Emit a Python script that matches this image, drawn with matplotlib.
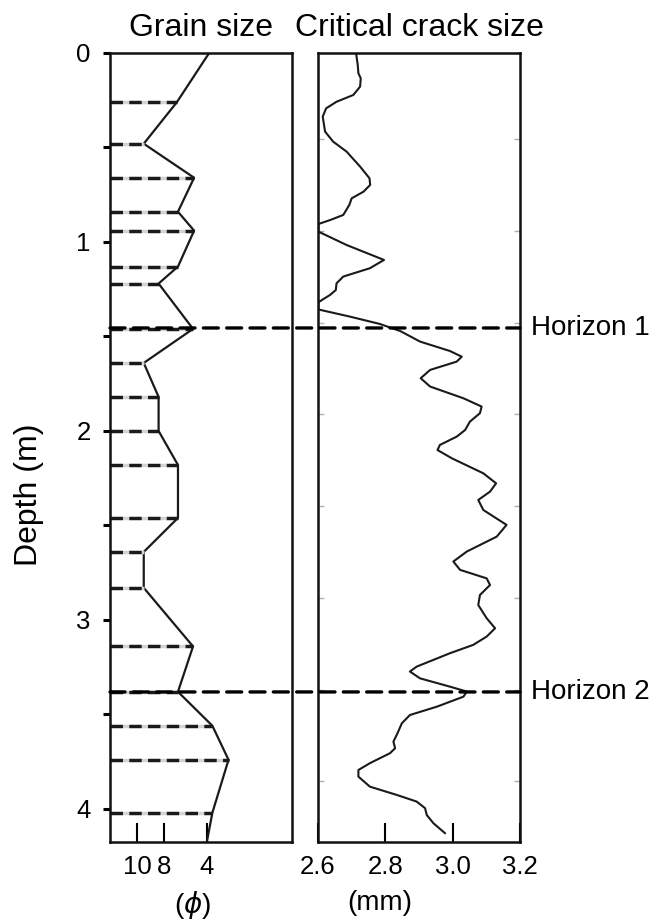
import numpy as np
import matplotlib
matplotlib.use("Agg")
import matplotlib.pyplot as plt
from matplotlib.patches import ConnectionPatch
from matplotlib.ticker import MultipleLocator, FuncFormatter

plt.rcParams['font.family'] = ['Liberation Sans', 'DejaVu Sans']

# ---------------- data ----------------
grain_depth = [0.0, 0.26, 0.48, 0.66, 0.84, 0.94, 1.13, 1.22, 1.46, 1.64, 1.82,
               2.0, 2.18, 2.46, 2.64, 2.83, 3.14, 3.38, 3.56, 3.74, 4.02, 4.17]
grain_phi = [3.8, 6.8, 9.5, 5.2, 6.7, 5.2, 6.7, 8.4, 5.3, 9.5, 8.4,
             8.4, 6.7, 6.7, 9.5, 9.5, 5.3, 6.7, 3.5, 2.0, 3.5, 4.0]

crack_depth = [0.0, 0.063, 0.107, 0.134, 0.178, 0.222, 0.258, 0.293, 0.337, 0.416,
               0.469, 0.522, 0.601, 0.663, 0.698, 0.734, 0.769, 0.804, 0.857, 0.884,
               0.905, 0.945, 1.016, 1.095, 1.139, 1.183, 1.219, 1.254, 1.280, 1.319,
               1.357, 1.395, 1.434, 1.471, 1.527, 1.577, 1.607, 1.633, 1.677, 1.721,
               1.765, 1.827, 1.871, 1.906, 1.951, 1.995, 2.030, 2.074, 2.101, 2.145,
               2.224, 2.277, 2.321, 2.365, 2.418, 2.497, 2.559, 2.638, 2.691, 2.735,
               2.780, 2.815, 2.868, 2.921, 2.991, 3.044, 3.088, 3.132, 3.176, 3.247,
               3.273, 3.309, 3.353, 3.379, 3.406, 3.459, 3.503, 3.547, 3.600, 3.644,
               3.679, 3.705, 3.758, 3.794, 3.829, 3.882, 3.926, 3.961, 3.996, 4.032,
               4.076, 4.128]
crack_mm = [2.713, 2.718, 2.720, 2.727, 2.725, 2.705, 2.655, 2.624, 2.614, 2.621,
            2.645, 2.685, 2.725, 2.753, 2.755, 2.735, 2.700, 2.693, 2.675, 2.636,
            2.601, 2.601, 2.685, 2.796, 2.754, 2.675, 2.655, 2.653, 2.636, 2.601,
            2.601, 2.695, 2.784, 2.844, 2.903, 2.992, 3.027, 3.012, 2.933, 2.905,
            2.933, 3.032, 3.086, 3.081, 3.051, 3.037, 3.012, 2.962, 2.955, 2.998,
            3.091, 3.129, 3.111, 3.076, 3.091, 3.160, 3.131, 3.042, 3.002, 3.022,
            3.101, 3.111, 3.081, 3.076, 3.101, 3.126, 3.101, 3.061, 2.992, 2.893,
            2.873, 2.903, 2.992, 3.042, 3.032, 2.953, 2.873, 2.849, 2.836, 2.824,
            2.829, 2.814, 2.754, 2.720, 2.720, 2.754, 2.834, 2.893, 2.918, 2.923,
            2.943, 2.977]

horizon_depths = [1.455, 3.381]
horizon_labels = ["Horizon 1", "Horizon 2"]

phi_ticks = [10, 8, 4]
mm_ticks = [2.6, 2.8, 3.0, 3.2]
grey_ticks = [0.455, 0.942, 1.429, 1.910, 2.397, 2.884, 3.370, 3.852]

# phi axis is drawn with uneven spacing in the original (piecewise-linear scale)
phi_anchor = np.array([-3.9, 4.0, 8.0, 10.0, 12.0])
pos_anchor = np.array([292.0, 207.0, 164.0, 137.0, 110.0])


def _pw(x, xp, fp):
    x = np.asarray(x, dtype=float)
    y = np.interp(x, xp, fp)
    s0 = (fp[1] - fp[0]) / (xp[1] - xp[0])
    s1 = (fp[-1] - fp[-2]) / (xp[-1] - xp[-2])
    y = np.where(x < xp[0], fp[0] + (x - xp[0]) * s0, y)
    y = np.where(x > xp[-1], fp[-1] + (x - xp[-1]) * s1, y)
    return y


def phi_fwd(v):
    return -_pw(v, phi_anchor, pos_anchor)


def phi_inv(p):
    return _pw(-np.asarray(p, dtype=float), pos_anchor[::-1], phi_anchor[::-1])


# ---------------- figure ----------------
W, H = 656, 919
fig = plt.figure(figsize=(W / 100, H / 100), dpi=100)
ax1 = fig.add_axes([110 / W, 1 - 842 / H, 182 / W, 789 / H])
ax2 = fig.add_axes([318 / W, 1 - 842 / H, 202 / W, 789 / H])

ylim = (4.175, 0.0)
spine_lw = 1.8

# Left panel: grain size
ax1.set_xscale('function', functions=(phi_fwd, phi_inv))
ax1.set_xlim(12.0, -3.9)
ax1.set_ylim(*ylim)
ax1.plot(grain_phi, grain_depth, color='#1a1a1a', lw=1.6)
xleft = ax1.get_xlim()[0]
for d, p in zip(grain_depth[1:-1], grain_phi[1:-1]):
    ax1.plot([xleft, p], [d, d], color='#1a1a1a', lw=2.5,
             linestyle=(0, (3.6, 1.8)), gapcolor='#d4d4d4')
ax1.set_xticks(phi_ticks)
ax1.set_xticklabels([str(t) for t in phi_ticks])
ax1.xaxis.set_minor_locator(plt.NullLocator())
ax1.tick_params(axis='x', direction='in', length=14, width=1.5, labelsize=18.5, pad=9)
ax1.yaxis.set_major_locator(MultipleLocator(0.5))
ax1.yaxis.set_major_formatter(FuncFormatter(
    lambda v, p: f"{v:.0f}" if abs(v - round(v)) < 1e-6 else ""))
ax1.tick_params(axis='y', direction='out', length=5, width=2.2, labelsize=18.5, pad=9)
ax1.set_ylabel("Depth (m)", fontsize=23)
ax1.yaxis.set_label_coords(-0.36, 0.44)
ax1.set_xlabel("($\\phi$)", fontsize=20)
ax1.xaxis.set_label_coords(0.455, -0.059)
ax1.set_title("Grain size", fontsize=23, pad=12)

# Right panel: critical crack size
ax2.plot(crack_mm, crack_depth, color='#1a1a1a', lw=1.5, solid_joinstyle='round')
ax2.set_xlim(mm_ticks[0], mm_ticks[-1])
ax2.set_ylim(*ylim)
ax2.set_xticks(mm_ticks)
ax2.set_xticklabels([f"{t:.1f}" for t in mm_ticks])
ax2.tick_params(axis='x', direction='in', length=14, width=1.5, labelsize=18.5, pad=9)
ax2.set_yticks(grey_ticks)
ax2.tick_params(axis='y', which='major', direction='in', length=4, width=1,
                color='#b0b0b0', left=True, right=True, labelleft=False)
ax2.set_xlabel("(mm)", fontsize=20)
ax2.xaxis.set_label_coords(0.305, -0.061)
ax2.set_title("Critical crack size", fontsize=23, pad=12)

for ax in (ax1, ax2):
    for s in ax.spines.values():
        s.set_linewidth(spine_lw)
        s.set_color('#111111')

# Horizons
for h, lab in zip(horizon_depths, horizon_labels):
    con = ConnectionPatch(xyA=(0, h), coordsA=ax1.get_yaxis_transform(),
                          xyB=(1, h), coordsB=ax2.get_yaxis_transform(),
                          color='black', lw=2.4, linestyle=(0, (4.5, 2.5)),
                          shrinkA=0, shrinkB=0, zorder=5)
    fig.add_artist(con)
    ax2.text(1.055, h, lab, transform=ax2.get_yaxis_transform(), fontsize=20,
             va='center', ha='left', clip_on=False)

fig.savefig("out.png", dpi=100)
